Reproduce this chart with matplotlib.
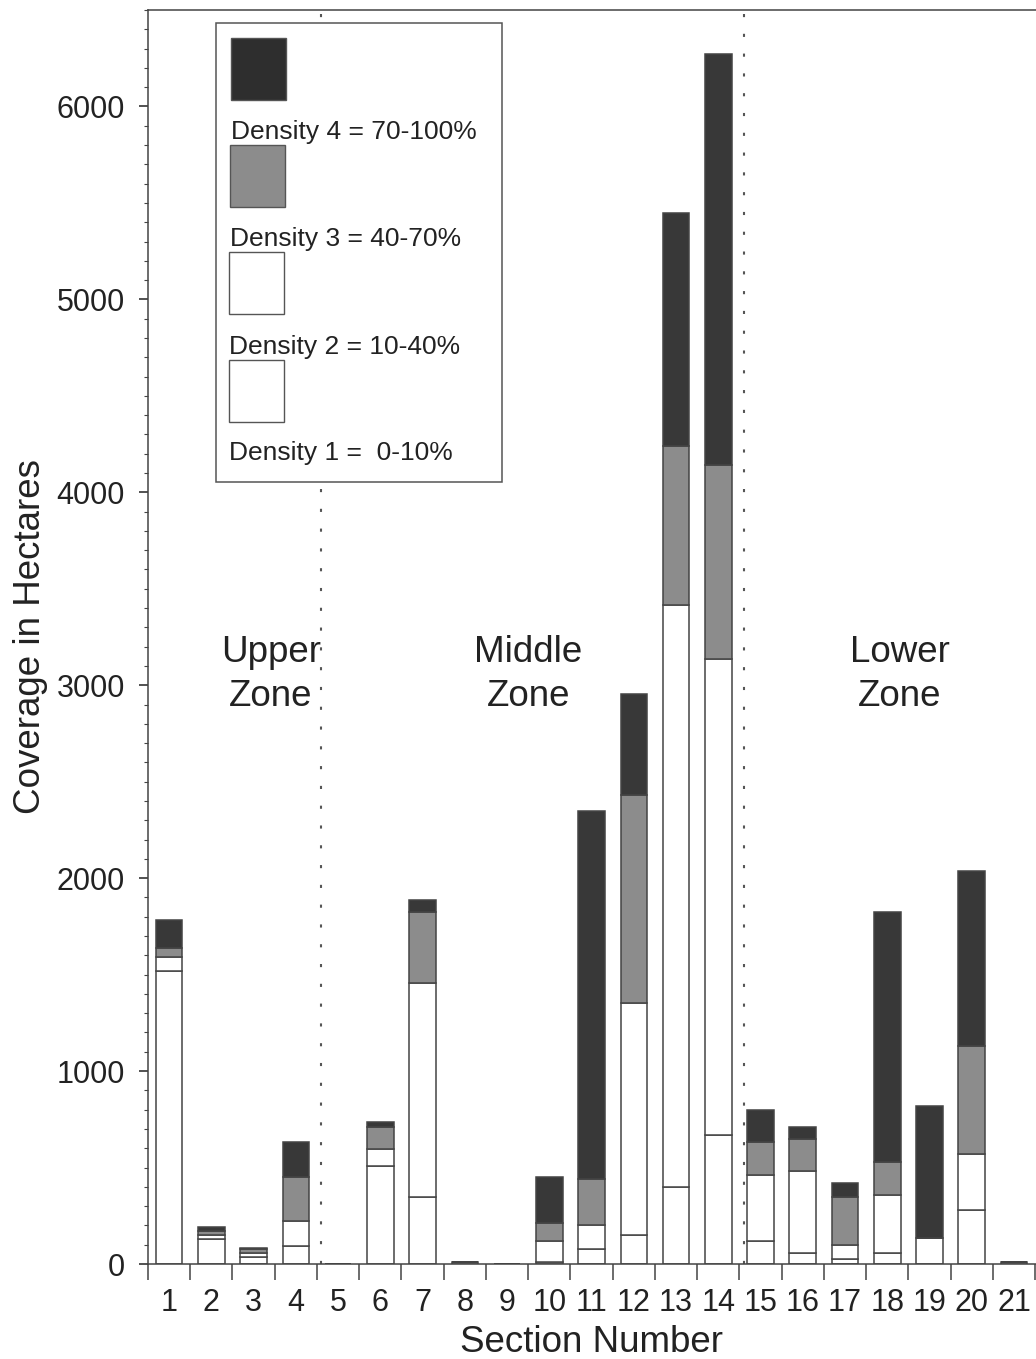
import matplotlib
matplotlib.use('Agg')
import matplotlib.pyplot as plt
from matplotlib.patches import Rectangle
from matplotlib.ticker import MultipleLocator
import numpy as np

plt.rcParams['font.family'] = ['Liberation Sans', 'DejaVu Sans']

# ---------------- data ----------------
sections = list(range(1, 22))
section_labels = [str(s) for s in sections]
density1 = [1520, 128, 35, 93, 0, 508, 349, 8, 0, 12, 80, 152, 398, 668, 117, 56, 25, 57, 133, 280, 10]
density2 = [70, 20, 23, 130, 0, 86, 1109, 0, 0, 109, 121, 1203, 3020, 2466, 344, 428, 73, 300, 0, 290, 0]
density3 = [50, 25, 22, 229, 0, 117, 364, 0, 0, 93, 240, 1078, 824, 1010, 169, 164, 247, 170, 0, 561, 0]
density4 = [142, 17, 5, 178, 0, 23, 64, 0, 0, 238, 1906, 520, 1204, 2128, 168, 60, 73, 1295, 687, 907, 0]

zone_labels = ["Upper\nZone", "Middle\nZone", "Lower\nZone"]
zone_label_x = [3.41, 9.5, 18.3]
zone_boundaries = [4.6, 14.6]
legend_labels = ["Density 4 = 70-100%", "Density 3 = 40-70%",
                 "Density 2 = 10-40%", "Density 1 =  0-10%"]

# ---------------- figure ----------------
W, H = 1036, 1359
fig = plt.figure(figsize=(W / 100, H / 100), dpi=100)
ax = fig.add_axes([148 / W, 95 / H, 888 / W, 1254 / H])

edge = '#444444'
txt = '#222222'
fills = ['white', 'white', '#8c8c8c', '#383838']
bottom = np.zeros(len(sections))
for vals, col in zip([density1, density2, density3, density4], fills):
    vals = np.array(vals, dtype=float)
    ax.bar(sections, vals, width=0.63, bottom=bottom, color=col,
           edgecolor=edge, linewidth=1.1, zorder=2)
    bottom += vals

for xb in zone_boundaries:
    ax.axvline(xb, color='#555555', linestyle=(0, (1.5, 8)), linewidth=1.5, zorder=1)

for lab, xz in zip(zone_labels, zone_label_x):
    ax.text(xz, 3055, lab, ha='center', va='center', fontsize=26.5,
            linespacing=1.32, color=txt, zorder=3)

ax.set_xlim(0.5, 21.52)
ax.set_ylim(0, 6500)
ax.set_xticks(sections)
ax.set_xticklabels(section_labels)
ax.set_xticks(np.arange(0.5, 22, 1), minor=True)
ax.tick_params(axis='x', which='major', length=0, pad=17, labelsize=22, colors=txt)
ax.tick_params(axis='x', which='minor', length=11.5, width=1.1, direction='out', color=edge)
for t in ax.get_xticklabels():
    t.set_x(t.get_position()[0])
ax.set_yticks(range(0, 6001, 1000))
ax.yaxis.set_minor_locator(MultipleLocator(100))
ax.tick_params(axis='y', which='major', length=6.5, width=1.1, pad=10, labelsize=22,
               colors=txt)
ax.tick_params(axis='y', which='minor', length=3, width=0.8, color=edge)

for s in ['left', 'bottom', 'top']:
    ax.spines[s].set_linewidth(1.1)
    ax.spines[s].set_color(edge)
ax.spines['right'].set_visible(False)

ax.set_xlabel('Section Number', fontsize=26.5, labelpad=5, color=txt)
ax.set_ylabel('Coverage in Hectares', fontsize=26.5, labelpad=6, color=txt)

# ---------------- legend (patch above its label) ----------------
lax = fig.add_axes([0, 0, 1, 1])
lax.set_xlim(0, W)
lax.set_ylim(H, 0)
lax.axis('off')
lax.set_zorder(5)
lax.add_patch(Rectangle((216, 23), 286, 459, facecolor='white', edgecolor='#555555', linewidth=1.1))
patch_specs = [(231, 38, '#2e2e2e'), (230, 145, '#8c8c8c'), (229, 252, 'white'), (229, 360, 'white')]
text_y = [132, 239, 347, 453]
for (px, py, col), ty, lab in zip(patch_specs, text_y, legend_labels):
    lax.add_patch(Rectangle((px, py), 55, 62, facecolor=col, edgecolor='#555555', linewidth=1.0))
    lax.text(px, ty, lab, ha='left', va='center', fontsize=19, color=txt)

fig.savefig('out.png', dpi=100)
